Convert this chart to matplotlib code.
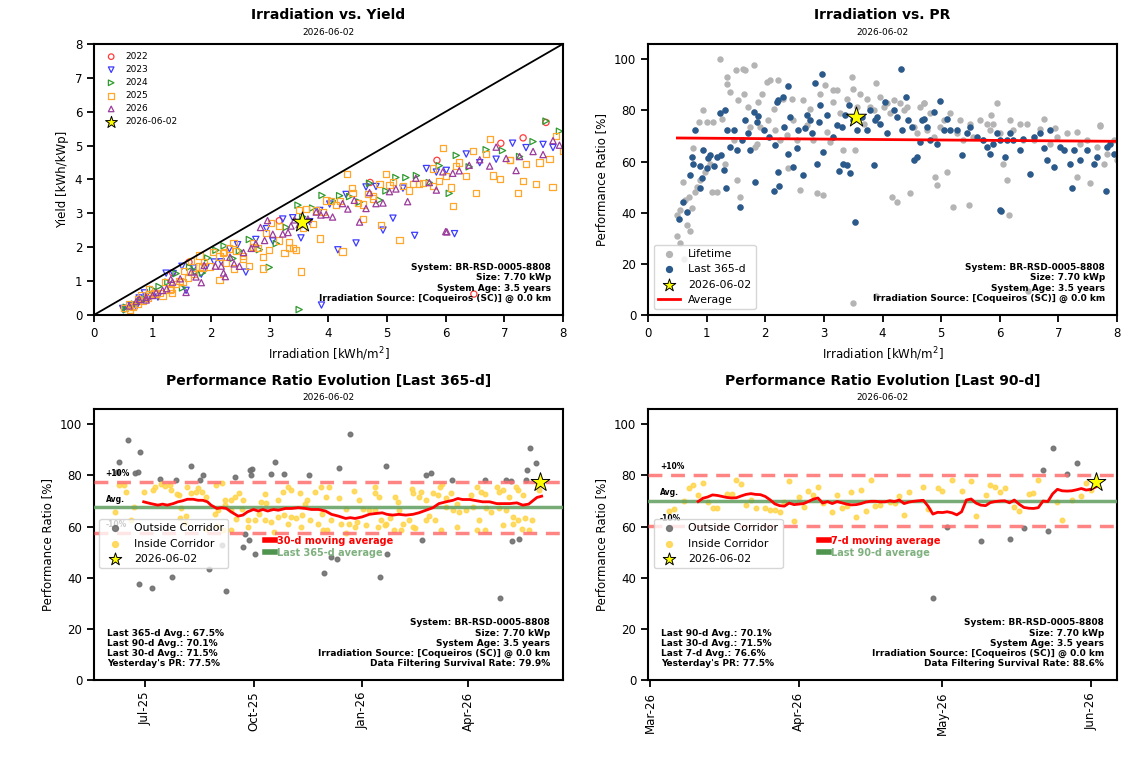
import pandas as pd
import matplotlib
matplotlib.use("Agg")
import matplotlib.pyplot as plt
import matplotlib.dates as mdates
from matplotlib.lines import Line2D
from matplotlib.transforms import blended_transform_factory

REPORT_DATE = "2026-06-02"
SYSTEM_INFO = ("System: BR-RSD-0005-8808\nSize: 7.70 kWp\nSystem Age: 3.5 years\n"
               "Irradiation Source: [Coqueiros (SC)] @ 0.0 km")

# Yesterday's reading
today_irr = 3.55
today_pr = 77.5

# Daily irradiation [kWh/m2] and PR [%] per year
irr_2022 = [1.34, 1.62, 3.16, 4.71, 5.85, 6.48, 6.94, 7.32, 7.71]
pr_2022 = [93.0, 96.0, 88.0, 83.0, 78.0, 9.5, 73.0, 71.4, 73.7]

irr_2023 = [0.49, 0.63, 0.77, 0.86, 0.97, 1.09, 1.23, 1.35, 1.50, 1.57, 1.70, 1.83, 1.91,
            2.05, 2.17, 2.31, 2.45, 2.59, 2.76, 2.94, 3.05, 3.22, 3.39, 3.53, 3.68, 3.85,
            4.02, 4.16, 4.30, 4.47, 4.64, 4.81, 4.93, 5.10, 5.27, 5.47, 5.67, 5.84, 6.01,
            6.15, 6.35, 6.58, 6.86, 7.14, 7.37, 7.66, 7.83, 0.50, 0.72, 3.88]
pr_2023 = [39.0, 44.9, 65.1, 75.5, 56.0, 48.2, 100.2, 90.5, 95.7, 46.2, 81.4, 65.7, 73.5,
           76.2, 72.2, 84.6, 84.6, 48.8, 80.7, 86.6, 71.6, 87.9, 84.6, 64.4, 74.8, 80.1,
           81.4, 46.2, 82.7, 47.5, 81.4, 78.8, 50.8, 56.0, 71.0, 42.9, 76.2, 72.2, 71.0,
           39.0, 74.8, 68.3, 67.0, 71.0, 67.0, 65.7, 63.1, 31.0, 33.0, 7.5]

irr_2024 = [0.55, 0.69, 0.80, 0.89, 1.00, 1.11, 1.26, 1.40, 1.51, 1.63, 1.74, 1.85, 1.94,
            2.08, 2.22, 2.37, 2.48, 2.65, 2.82, 2.99, 3.11, 3.28, 3.48, 3.56, 3.73, 3.89,
            4.07, 4.19, 4.36, 4.53, 4.70, 4.87, 4.98, 5.15, 5.32, 5.50, 5.72, 5.89, 6.06,
            6.18, 6.40, 6.69, 6.97, 7.26, 7.49, 7.71, 7.94, 0.55, 3.50]
pr_2024 = [41.0, 46.2, 48.2, 52.7, 75.5, 75.5, 76.8, 87.2, 52.7, 86.6, 73.5, 67.0, 86.6,
           91.8, 91.8, 70.3, 76.2, 84.0, 68.3, 46.9, 67.7, 78.8, 93.1, 81.4, 84.6, 90.7,
           82.7, 84.0, 80.1, 73.5, 82.7, 69.6, 73.5, 78.8, 76.2, 74.8, 68.3, 74.8, 59.2,
           76.2, 68.3, 72.9, 69.6, 64.4, 68.3, 74.2, 68.3, 28.0, 4.5]

irr_2025_h1 = [0.60, 0.75, 0.83, 0.94, 1.06, 1.17, 1.31, 1.46, 1.54, 1.66, 1.80, 1.88, 2.03,
               2.14, 2.25, 2.39, 2.54, 2.71, 2.88, 3.02, 3.16, 3.33, 3.50, 3.62, 3.79, 3.96,
               4.13, 4.24, 4.41, 4.59, 4.76, 4.90, 5.04, 5.21, 5.38, 5.55, 5.78, 5.95, 6.12,
               6.23, 6.46, 6.75, 7.09, 7.32, 7.54, 7.77, 8.00, 0.62, 0.66]
pr_2025_h1 = [52.1, 41.7, 50.1, 80.1, 59.2, 48.2, 59.2, 68.3, 84.0, 95.7, 97.6, 83.3, 91.1,
              80.7, 68.3, 57.3, 68.3, 74.2, 47.5, 89.8, 83.3, 64.4, 88.5, 86.6, 81.4, 85.3,
              78.8, 44.2, 81.4, 71.0, 72.2, 54.0, 76.2, 42.3, 68.3, 69.6, 74.8, 82.7, 52.7,
              72.2, 74.8, 76.8, 64.4, 54.0, 51.4, 59.2, 60.5, 22.0, 35.0]

irr_2025_h2 = [0.52, 0.66, 0.75, 0.80, 0.92, 0.94, 1.03, 1.13, 1.22, 1.29, 1.33, 1.40, 1.51,
               1.60, 1.70, 1.80, 1.85, 1.97, 2.14, 2.20, 2.22, 2.30, 2.38, 2.42, 2.54, 2.65,
               2.71, 2.79, 2.88, 2.94, 2.99, 3.16, 3.25, 3.33, 3.39, 3.44, 3.56, 3.73, 3.85,
               3.91, 4.04, 4.19, 4.31, 4.40, 4.50, 4.59, 4.67, 4.76, 4.87, 4.98, 5.10, 5.27,
               5.44, 5.61, 5.78, 5.89, 6.01, 6.09, 6.18, 6.35, 6.52, 6.69, 6.80, 6.92, 7.09,
               7.23, 7.37, 7.60, 7.82, 7.88, 3.53]
pr_2025_h2 = [37.7, 40.3, 61.8, 72.5, 53.4, 64.4, 61.2, 58.2, 78.8, 56.6, 49.5, 65.7, 64.4,
              68.3, 71.0, 79.4, 75.5, 72.5, 48.5, 83.3, 84.0, 85.3, 89.6, 77.5, 65.1, 54.7,
              78.1, 71.0, 59.2, 82.0, 63.8, 69.6, 56.4, 59.2, 58.6, 55.6, 72.2, 72.2, 58.6,
              77.5, 83.3, 80.1, 96.3, 85.3, 73.5, 61.8, 76.2, 73.5, 79.4, 83.7, 76.8, 72.2,
              71.0, 69.6, 65.7, 67.0, 68.3, 61.8, 71.0, 64.4, 55.1, 71.0, 60.5, 57.9, 64.4,
              49.8, 60.5, 59.2, 48.4, 67.0, 36.3]

irr_2026 = [0.60, 0.72, 0.77, 0.89, 0.89, 1.00, 1.06, 1.17, 1.24, 1.31, 1.34, 1.47, 1.57,
            1.66, 1.74, 1.83, 1.88, 2.07, 2.17, 2.21, 2.24, 2.32, 2.39, 2.48, 2.55, 2.68,
            2.76, 2.84, 2.91, 2.96, 3.05, 3.22, 3.31, 3.36, 3.42, 3.50, 3.65, 3.79, 3.87,
            3.96, 4.07, 4.24, 4.33, 4.44, 4.53, 4.64, 4.70, 4.81, 4.93, 5.04, 5.15, 5.35,
            5.49, 5.72, 5.84, 5.95, 6.02, 6.12, 6.23, 6.40, 6.58, 6.75, 6.86, 7.03, 7.20,
            7.26, 7.49, 7.66, 7.83, 7.94, 6.00]
pr_2026 = [44.2, 54.7, 59.2, 58.2, 49.5, 57.3, 62.5, 61.8, 62.5, 80.3, 72.2, 72.5, 42.3,
           76.4, 64.4, 52.1, 77.7, 69.6, 66.4, 56.0, 50.5, 73.5, 63.1, 57.9, 72.2, 73.3,
           76.2, 90.9, 75.5, 94.1, 78.1, 74.2, 73.5, 78.1, 82.0, 76.2, 77.5, 80.1, 76.2,
           74.8, 71.0, 77.5, 72.2, 76.2, 60.5, 67.7, 76.8, 68.3, 67.0, 72.2, 72.2, 62.5,
           73.5, 68.3, 63.1, 71.0, 40.7, 68.3, 68.3, 69.0, 69.6, 65.1, 72.2, 65.7, 59.2,
           64.4, 64.4, 61.8, 65.7, 63.1, 41.0]

# PR vs irradiation trend line
fit_irr = [0.5, 8.0]
fit_pr = [69.2, 67.9]

# Last 365 days (day 0 = 2025-06-02)
start_365 = "2025-06-02"
avg_365 = 67.5
in365_day = [4, 7, 11, 13, 17, 20, 28, 36, 38, 43, 46, 50, 51, 56, 58, 59, 60, 63, 64, 65,
             68, 72, 74, 77, 81, 81, 88, 89, 90, 91, 94, 95, 97, 97, 102, 102, 102, 105, 106, 109,
             111, 112, 116, 116, 122, 126, 127, 131, 131, 132, 136, 138, 142, 142, 146, 147, 150, 150, 153, 153,
             157, 160, 161, 162, 165, 166, 169, 173, 176, 178, 179, 180, 182, 183, 185, 187, 193, 195, 199, 199,
             202, 206, 207, 209, 210, 214, 216, 219, 224, 224, 224, 226, 227, 229, 232, 233, 237, 240, 241, 243,
             244, 246, 248, 253, 255, 256, 256, 258, 261, 263, 267, 267, 270, 273, 275, 277, 279, 280, 281, 284,
             284, 288, 290, 293, 293, 295, 301, 305, 307, 310, 310, 312, 314, 317, 317, 318, 322, 327, 329, 329,
             332, 332, 335, 337, 341, 341, 343, 345, 345, 348, 349, 351, 354, 357, 362, 363]
in365_pr = [65.7, 76.2, 76.2, 73.6, 62.5, 67.7, 73.6, 74.5, 75.5, 76.8, 75.8, 76.2, 74.2, 72.6, 72.4, 63.5, 67.1, 61.5, 64.1, 75.5,
            73.0, 73.6, 75.0, 73.6, 71.6, 59.2, 65.1, 76.2, 60.4, 66.4, 77.0, 58.6, 70.3, 68.4, 70.6, 66.4, 58.6, 71.6, 62.8, 73.0,
            66.8, 70.3, 62.5, 60.0, 62.5, 65.1, 69.6, 72.9, 62.5, 69.3, 61.8, 57.9, 70.3, 63.8, 73.6, 64.6, 75.5, 61.2, 74.2, 63.8,
            63.2, 73.0, 59.9, 64.6, 69.0, 70.3, 62.5, 73.6, 61.2, 75.5, 65.1, 58.6, 71.6, 58.6, 75.5, 62.5, 71.2, 61.2, 66.7, 57.6,
            61.2, 73.9, 59.9, 61.8, 70.3, 66.7, 60.5, 66.4, 75.5, 66.4, 73.0, 59.9, 71.6, 62.5, 60.5, 61.2, 63.2, 58.6, 71.6, 69.6,
            66.4, 58.6, 61.2, 62.5, 74.9, 73.0, 59.9, 59.3, 71.6, 73.6, 70.3, 62.5, 64.0, 73.0, 62.5, 72.4, 75.5, 58.6, 76.8, 67.7,
            71.1, 73.0, 66.4, 69.0, 59.9, 65.7, 66.4, 72.4, 67.7, 75.5, 58.6, 62.5, 73.6, 72.9, 58.6, 67.1, 65.7, 75.5, 73.6, 67.1,
            74.2, 60.5, 66.4, 71.6, 63.8, 61.2, 75.5, 74.2, 62.5, 59.2, 72.3, 63.2, 58.6, 62.5, 76.2, 74.5]
out365_day = [5, 7, 15, 21, 23, 24, 25, 35, 42, 52, 55, 68, 76, 78, 83, 94, 98, 105, 112, 114,
              117, 118, 119, 120, 122, 136, 139, 147, 168, 181, 187, 192, 193, 203, 228, 233, 234, 264, 267, 271,
              289, 317, 330, 335, 339, 340, 346, 352, 353, 355, 360]
out365_pr = [81.2, 85.3, 93.8, 81.0, 81.4, 37.5, 89.2, 35.8, 78.8, 40.1, 78.4, 83.6, 78.1, 80.3, 43.6, 52.7, 34.8, 79.4, 52.1, 57.3,
             54.7, 82.0, 80.1, 82.7, 49.1, 80.7, 85.3, 80.5, 80.3, 41.7, 48.2, 47.3, 83.1, 96.4, 40.4, 83.6, 49.2, 54.9, 80.1, 81.1,
             78.4, 78.4, 32.2, 78.1, 77.9, 54.4, 55.2, 78.4, 82.0, 90.6, 84.9]
ma30_day = [28, 34, 40, 44, 48, 53, 57, 61, 65, 70, 74, 78, 82, 85, 90, 94, 98, 102, 108, 112,
            116, 121, 125, 129, 133, 138, 142, 148, 153, 159, 165, 170, 176, 182, 187, 193, 199, 203, 207, 213,
            219, 224, 230, 234, 239, 244, 250, 256, 261, 267, 273, 278, 284, 290, 294, 298, 304, 310, 315, 321,
            327, 332, 338, 344, 349, 354, 358, 361, 365]
ma30_pr = [69.7, 69.0, 68.4, 68.8, 68.4, 69.0, 69.7, 70.1, 70.7, 70.7, 70.3, 70.3, 69.7, 68.4, 67.1, 67.4, 67.1, 65.8, 64.1, 64.5,
           65.8, 66.7, 66.1, 66.7, 66.1, 66.7, 66.4, 67.1, 67.1, 67.4, 67.1, 66.7, 66.7, 66.1, 64.8, 64.1, 63.2, 63.5, 63.2, 63.8,
           64.8, 65.1, 65.4, 64.8, 64.5, 64.8, 64.5, 64.8, 65.4, 66.4, 67.4, 69.0, 69.7, 70.3, 71.0, 70.6, 70.6, 70.1, 69.7, 69.7,
           69.0, 69.0, 69.0, 69.3, 68.4, 68.8, 70.3, 71.4, 71.9]

# Last 90 days (day 0 = 2026-03-04)
start_90 = "2026-03-04"
avg_90 = 70.1
in90_day = [1, 2, 4, 5, 6, 7, 8, 9, 10, 11, 13, 14, 15, 16, 17, 18, 19, 21, 22, 23,
            24, 25, 26, 27, 28, 29, 30, 31, 32, 33, 35, 36, 37, 38, 39, 40, 41, 42, 43, 44,
            45, 47, 48, 49, 50, 51, 54, 55, 57, 58, 60, 62, 64, 65, 67, 68, 69, 70, 71, 73,
            74, 76, 77, 78, 82, 83, 85, 87, 88, 89]
in90_pr = [66.1, 66.7, 69.9, 75.1, 76.4, 72.3, 77.1, 69.5, 67.3, 67.3, 72.9, 72.9, 78.4, 76.8, 68.4, 70.3, 67.1, 67.3, 66.4, 66.4,
           65.9, 69.7, 77.7, 62.2, 71.6, 67.7, 73.8, 72.5, 75.5, 69.4, 65.8, 72.5, 67.4, 68.0, 73.4, 63.7, 74.2, 66.1, 78.4, 68.0,
           68.5, 69.7, 69.3, 71.9, 64.5, 73.6, 75.5, 66.7, 75.1, 73.9, 78.1, 73.9, 77.7, 64.3, 72.5, 76.4, 75.5, 73.6, 75.1, 67.7,
           66.1, 72.7, 73.2, 78.4, 69.5, 62.5, 70.3, 72.0, 77.1, 74.2]
out90_day = [56, 59, 66, 72, 75, 79, 80, 81, 84, 86]
out90_pr = [32.2, 60.0, 54.3, 55.2, 59.4, 82.0, 58.2, 90.7, 80.7, 84.8]
ma7_pr = [69.8, 71.1, 71.6, 72.4, 72.2, 71.8, 71.4, 71.2, 71.3, 72.0, 72.6, 72.9, 72.6, 72.5,
          71.8, 70.5, 68.9, 68.2, 68.0, 69.2, 68.6, 68.8, 69.0, 69.8, 70.7, 71.2, 69.2, 69.8,
          69.0, 69.8, 69.3, 68.8, 68.5, 68.6, 69.0, 69.6, 69.9, 69.9, 69.7, 69.7, 70.1, 69.8,
          70.4, 69.0, 69.6, 69.9, 70.1, 70.3, 68.0, 64.9, 65.6, 65.5, 65.8, 65.4, 64.6, 65.8,
          70.4, 70.8, 69.2, 68.4, 68.2, 69.4, 69.8, 70.0, 70.1, 69.3, 70.4, 68.8, 67.5, 67.2,
          67.1, 67.4, 70.0, 69.8, 72.8, 74.6, 74.0, 73.9, 74.0, 74.4, 74.9, 74.3, 74.6, 75.5]
ma7_day = list(range(7, 7 + len(ma7_pr)))

STATS_365 = ("Last 365-d Avg.: 67.5%\nLast 90-d Avg.: 70.1%\nLast 30-d Avg.: 71.5%\n"
             "Yesterday's PR: 77.5%")
STATS_90 = ("Last 90-d Avg.: 70.1%\nLast 30-d Avg.: 71.5%\nLast 7-d Avg.: 76.6%\n"
            "Yesterday's PR: 77.5%")


def to_dates(start, days):
    return pd.Timestamp(start) + pd.to_timedelta(days, unit="D")


def style_axes(ax, title):
    for sp in ax.spines.values():
        sp.set_linewidth(1.5)
    ax.tick_params(width=1.3, length=5, labelsize=8.5)
    ax.text(0.5, 1.105, title, transform=ax.transAxes, ha="center", va="center",
            fontsize=10, fontweight="bold")
    ax.text(0.5, 1.043, REPORT_DATE, transform=ax.transAxes, ha="center", va="center",
            fontsize=6.5)


def set_handle_sizes(leg, sizes):
    # keep legend markers small, like the original report
    for h, s in zip(leg.legend_handles, sizes):
        if s is not None and hasattr(h, "set_sizes"):
            h.set_sizes([s])


def corridor_plot(ax, start, in_day, in_pr, out_day, out_pr, ma_day, ma_pr, avg,
                  ma_label, avg_label, stats, survival):
    h_out = ax.scatter(to_dates(start, out_day), out_pr, s=11, color="#6f6f6f", alpha=0.9,
                       label="Outside Corridor", zorder=2)
    h_in = ax.scatter(to_dates(start, in_day), in_pr, s=11, color="#ffd54a", alpha=0.85,
                      label="Inside Corridor", zorder=2)
    ax.axhline(avg, color="#5f9e5f", lw=2.5, alpha=0.85, zorder=3)
    ax.axhline(avg + 10, color="#ff7070", lw=2.5, ls=(0, (4, 2.5)), alpha=0.85, zorder=3)
    ax.axhline(avg - 10, color="#ff7070", lw=2.5, ls=(0, (4, 2.5)), alpha=0.85, zorder=3)
    ax.plot(to_dates(start, ma_day), ma_pr, color="red", lw=2, zorder=4)
    h_star = ax.scatter(to_dates(start, [max(in_day + out_day) + 1]), [today_pr], marker="*",
                        s=200, color="yellow", edgecolors="black", linewidths=0.7,
                        label=REPORT_DATE, zorder=5)
    ax.set_ylim(0, 106)
    ax.set_ylabel("Performance Ratio [%]", fontsize=8.5)

    tr = blended_transform_factory(ax.transAxes, ax.transData)
    for y, s in [(avg + 10, "+10%"), (avg, "Avg."), (avg - 10, "-10%")]:
        ax.text(0.025, y + 1.5, s, transform=tr, fontsize=5.5, fontweight="bold", va="bottom")

    leg1 = ax.legend(handles=[h_out, h_in, h_star], loc="upper left",
                     bbox_to_anchor=(0.0, 0.615), fontsize=7.8, framealpha=0.8,
                     handletextpad=0.8, borderpad=0.4, labelspacing=0.5)
    set_handle_sizes(leg1, [18, 18, 90])
    ax.add_artist(leg1)
    handles = [Line2D([], [], color="red", lw=4), Line2D([], [], color="#4f944f", lw=4)]
    leg2 = ax.legend(handles, [ma_label, avg_label], loc="upper left",
                     bbox_to_anchor=(0.345, 0.565), frameon=False, handlelength=1.1,
                     handletextpad=0.2, labelspacing=0.2, prop={"size": 7, "weight": "bold"})
    leg2.get_texts()[0].set_color("red")
    leg2.get_texts()[1].set_color("#7fb07f")

    ax.text(0.028, 0.045, stats, transform=ax.transAxes, fontsize=6.5, fontweight="bold",
            va="bottom", ha="left", linespacing=1.15)
    ax.text(0.972, 0.045, SYSTEM_INFO + "\nData Filtering Survival Rate: " + survival,
            transform=ax.transAxes, fontsize=6.5, fontweight="bold", va="bottom", ha="right",
            linespacing=1.15)
    for lab in ax.get_xticklabels():
        lab.set_rotation(90)


fig = plt.figure(figsize=(11.41, 7.57), dpi=100)
ax_yield = fig.add_axes([0.0824, 0.584, 0.411, 0.358])
ax_pr = fig.add_axes([0.568, 0.584, 0.411, 0.358])
ax_365 = fig.add_axes([0.0824, 0.1017, 0.411, 0.358])
ax_90 = fig.add_axes([0.568, 0.1017, 0.411, 0.358])

# Irradiation vs. Yield
years = [("2022", irr_2022, pr_2022, "o", "#ff3c3c"),
         ("2023", irr_2023, pr_2023, "v", "#3c3cff"),
         ("2024", irr_2024, pr_2024, ">", "#2e9a2e"),
         ("2025", irr_2025_h1 + irr_2025_h2, pr_2025_h1 + pr_2025_h2, "s", "#ffa62b"),
         ("2026", irr_2026, pr_2026, "^", "#9b3b9b")]
for label, irr, pr, mk, col in years:
    yld = [i * p / 100 for i, p in zip(irr, pr)]
    ax_yield.scatter(irr, yld, marker=mk, s=20, facecolors="none", edgecolors=col,
                     linewidths=0.9, label=label)
ax_yield.scatter([today_irr], [today_irr * today_pr / 100], marker="*", s=230, color="yellow",
                 edgecolors="black", linewidths=0.7, label=REPORT_DATE, zorder=5)
ax_yield.axline((0, 0), slope=1, color="black", lw=1.3)
ax_yield.set_xlim(0, 8)
ax_yield.set_ylim(0, 8)
ax_yield.set_xlabel("Irradiation [kWh/m$^2$]", fontsize=8.5)
ax_yield.set_ylabel("Yield [kWh/kWp]", fontsize=8.5)
leg = ax_yield.legend(loc="upper left", frameon=False, fontsize=6.5,
                      handletextpad=0.6, labelspacing=0.45)
set_handle_sizes(leg, [16, 16, 16, 16, 16, 80])
ax_yield.text(0.974, 0.045, SYSTEM_INFO, transform=ax_yield.transAxes, fontsize=6.5,
              fontweight="bold", ha="right", va="bottom", linespacing=1.15)
style_axes(ax_yield, "Irradiation vs. Yield")

# Irradiation vs. PR
life_irr = irr_2022 + irr_2023 + irr_2024 + irr_2025_h1 + irr_2025_h2 + irr_2026
life_pr = pr_2022 + pr_2023 + pr_2024 + pr_2025_h1 + pr_2025_h2 + pr_2026
ax_pr.scatter(life_irr, life_pr, s=13, color="#b4b4b4", label="Lifetime")
ax_pr.scatter(irr_2025_h2 + irr_2026, pr_2025_h2 + pr_2026, s=13, color="#2a5a8c",
              label="Last 365-d")
ax_pr.scatter([today_irr], [today_pr], marker="*", s=230, color="yellow", edgecolors="black",
              linewidths=0.7, label=REPORT_DATE, zorder=5)
ax_pr.plot(fit_irr, fit_pr, color="red", lw=2, label="Average")
ax_pr.set_xlim(0, 8)
ax_pr.set_ylim(0, 106)
ax_pr.set_xlabel("Irradiation [kWh/m$^2$]", fontsize=8.5)
ax_pr.set_ylabel("Performance Ratio [%]", fontsize=8.5)
leg = ax_pr.legend(loc="lower left", fontsize=7.8, framealpha=0.8, handletextpad=0.8)
set_handle_sizes(leg, [18, 18, 90, None])
ax_pr.text(0.974, 0.045, SYSTEM_INFO, transform=ax_pr.transAxes, fontsize=6.5,
           fontweight="bold", ha="right", va="bottom", linespacing=1.15)
style_axes(ax_pr, "Irradiation vs. PR")

# PR evolution, last 365 days
ax_365.xaxis.set_major_locator(mdates.MonthLocator(bymonth=[1, 4, 7, 10]))
ax_365.xaxis.set_major_formatter(mdates.DateFormatter("%b-%y"))
corridor_plot(ax_365, start_365, in365_day, in365_pr, out365_day, out365_pr, ma30_day, ma30_pr,
              avg_365, "30-d moving average", "Last 365-d average", STATS_365, "79.9%")
style_axes(ax_365, "Performance Ratio Evolution [Last 365-d]")

# PR evolution, last 90 days
ax_90.xaxis.set_major_locator(mdates.MonthLocator())
ax_90.xaxis.set_major_formatter(mdates.DateFormatter("%b-%y"))
corridor_plot(ax_90, start_90, in90_day, in90_pr, out90_day, out90_pr, ma7_day, ma7_pr,
              avg_90, "7-d moving average", "Last 90-d average", STATS_90, "88.6%")
style_axes(ax_90, "Performance Ratio Evolution [Last 90-d]")

fig.savefig("out.png", dpi=100)
